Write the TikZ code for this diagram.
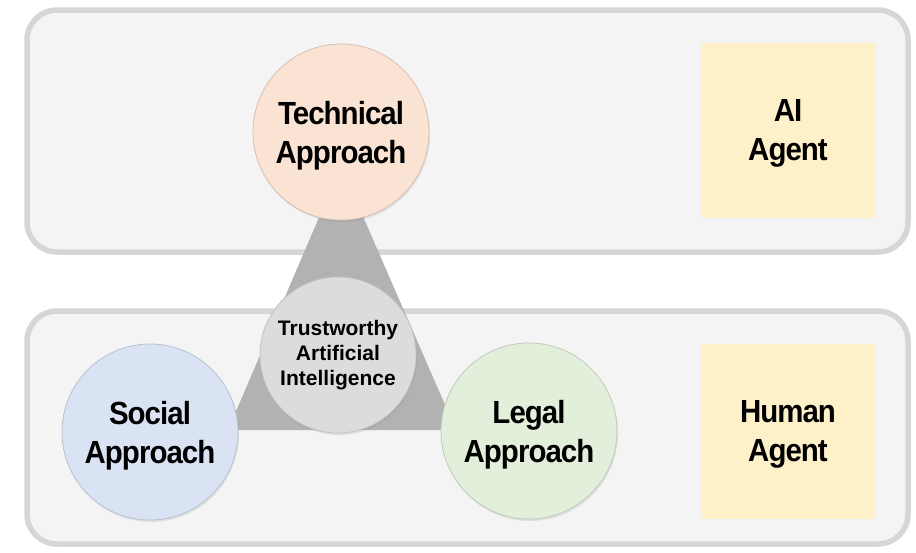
\documentclass[tikz,border=0pt]{standalone}
\usepackage{fontspec}
\setmainfont{Liberation Sans}
\newfontfamily\labelfont{Liberation Sans}[FakeStretch=0.92, LetterSpace=-3]
\usetikzlibrary{shadows}

\definecolor{panelfill}{HTML}{F4F4F4}
\definecolor{panelline}{HTML}{D6D6D6}
\definecolor{techfill}{HTML}{FBE3D4}
\definecolor{socialfill}{HTML}{DAE3F3}
\definecolor{legalfill}{HTML}{E2EFDA}
\definecolor{trustfill}{HTML}{DCDCDC}
\definecolor{agentfill}{HTML}{FEF1C9}
\definecolor{wedgegray}{HTML}{B2B2B2}

\begin{document}
\begin{tikzpicture}[x=1pt, y=-1pt,
    panel style/.style={draw=panelline, fill=panelfill, line width=5.5pt, rounded corners=30pt},
    approach style/.style={circle, minimum size=176pt, inner sep=0pt, align=center,
        fill=#1, draw=#1!85!black, line width=0.8pt, text depth=0pt,
        drop shadow={opacity=0.18, shadow xshift=1pt, shadow yshift=-2pt},
        font=\labelfont\bfseries\fontsize{32}{39}\selectfont},
    trust style/.style={circle, minimum size=156pt, inner sep=0pt, align=center,
        fill=trustfill, draw=trustfill!88!black, line width=0.8pt,
        drop shadow={opacity=0.18, shadow xshift=1pt, shadow yshift=-2pt},
        font=\bfseries\fontsize{21}{25}\selectfont},
    agent style/.style={rectangle, minimum width=175pt, minimum height=175pt, inner sep=0pt,
        align=center, fill=agentfill, text depth=0pt,
        font=\labelfont\bfseries\fontsize{32}{39}\selectfont},
]
    \useasboundingbox (0,0) rectangle (916,552);

    % Panels
    \draw[panel style] (27,10) rectangle (908,252);
    \draw[panel style] (27,311) rectangle (908,544);

    % Wedge behind the circles
    \coordinate (apex) at (341,166);
    \coordinate (baseL) at (228,430);
    \coordinate (baseR) at (456,430);
    \fill[wedgegray] (apex) -- (baseL) -- (baseR) -- cycle;

    % Approaches
    \node[approach style=techfill] (tech) at (341,132) {Technical\\Approach};
    \node[approach style=socialfill] (social) at (150,432) {Social\\Approach};
    \node[approach style=legalfill] (legal) at (529,431) {Legal\\Approach};

    \node[trust style] (tai) at (338,355) {Trustworthy\\Artificial\\Intelligence};

    % Agents
    \node[agent style] (ai) at (788,130) {AI\\Agent};
    \node[agent style] (human) at (788,431) {Human\\Agent};

\end{tikzpicture}
\end{document}
